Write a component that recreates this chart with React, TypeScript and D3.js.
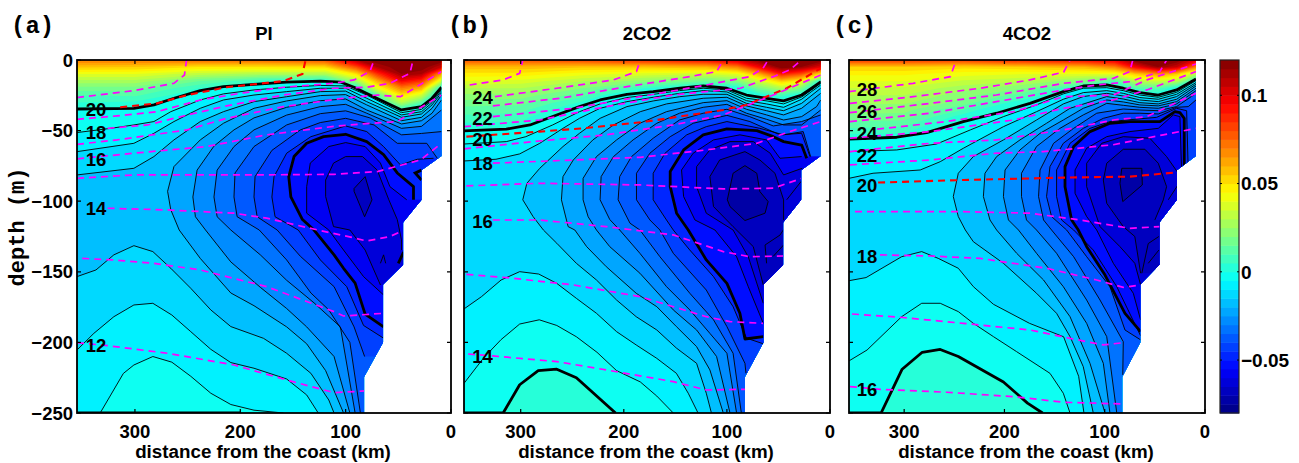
import React from "react";
import * as d3 from "d3";

type P = [number, number];
type Contour = { level: number; upper: P[]; lower?: P[] };
type Iso = { t: number; pts: P[] };

// x = distance from coast (km), second value = depth below surface (m)
const xTickValues = [300, 200, 100, 0];
const yTickValues = [0, 50, 100, 150, 200, 250];
const barTicks = [0.1, 0.05, 0, -0.05];
const barTickLabels = ["0.1", "0.05", "0", "\u22120.05"];
const topography: P[] = [[9, 0], [9, 68], [28, 78], [28, 99], [45.5, 115], [45.5, 145], [64.5, 159], [64.5, 200], [82.5, 224.5], [82.5, 250], [355, 250], [355, 0]];

const surfaceKm = [355, 300, 240, 180, 120, 90, 70, 47, 28, 9];
const surfaceDepth = [0, 5, 10, 15, 20, 25, 30, 35, 40, 50, 60];
const surfaceA = [
  .072, .072, .075, .075, .08, .11, .12, .12, .12, .12,
  .056, .055, .05, .05, .052, .08, .11, .12, .12, .105,
  .04, .04, .032, .028, .028, .05, .085, .115, .11, .065,
  .028, .028, .015, .005, 0, .025, .06, .095, .085, .035,
  .018, .018, .005, -.01, -.01, 0, .04, .07, .06, 0,
  .01, .011, 0, -.01, -.01, -.01, .012, .05, .035, -.01,
  .005, .004, -.01, -.01, -.01, -.01, 0, .03, .012, -.01,
  0, 0, -.01, -.01, -.01, -.01, -.01, .005, 0, -.01,
  -.01, -.01, -.01, -.01, -.01, -.01, -.01, -.01, -.01, -.01,
  -.01, -.01, -.01, -.01, -.01, -.01, -.01, -.01, -.01, -.01,
  -.01, -.01, -.01, -.01, -.01, -.01, -.01, -.01, -.01, -.01,
];
const surfaceB = [
  .08, .08, .082, .088, .095, .105, .118, .12, .12, .12,
  .058, .058, .056, .056, .06, .07, .095, .12, .115, .1,
  .048, .048, .042, .038, .035, .04, .06, .09, .08, .05,
  .04, .038, .03, .022, .015, .02, .035, .055, .045, 0,
  .03, .03, .02, .005, -.005, 0, .018, .03, .02, -.01,
  .024, .023, .012, -.01, -.01, -.005, 0, .008, 0, -.01,
  .018, .017, .004, -.01, -.01, -.01, -.005, -.005, -.01, -.01,
  .013, .012, -.002, -.01, -.01, -.01, -.01, -.01, -.01, -.01,
  .009, .008, -.01, -.01, -.01, -.01, -.01, -.01, -.01, -.01,
  0, 0, -.01, -.01, -.01, -.01, -.01, -.01, -.01, -.01,
  -.01, -.01, -.01, -.01, -.01, -.01, -.01, -.01, -.01, -.01,
];
const surfaceC = [
  .085, .085, .085, .09, .095, .1, .12, .12, .12, .1,
  .055, .055, .052, .055, .06, .07, .095, .115, .105, .07,
  .046, .046, .042, .04, .04, .04, .055, .065, .055, .03,
  .04, .04, .034, .03, .02, .01, .03, .035, .03, 0,
  .035, .034, .027, .02, 0, 0, .01, .012, 0, -.01,
  .03, .03, .022, .012, -.01, -.01, -.005, 0, -.01, -.01,
  .026, .026, .018, 0, -.01, -.01, -.01, -.01, -.01, -.01,
  .022, .022, .01, -.01, -.01, -.01, -.01, -.01, -.01, -.01,
  .019, .018, .002, -.01, -.01, -.01, -.01, -.01, -.01, -.01,
  .008, .007, -.01, -.01, -.01, -.01, -.01, -.01, -.01, -.01,
  -.004, -.004, -.01, -.01, -.01, -.01, -.01, -.01, -.01, -.01,
];

const contoursA: Contour[] = [
  { level: 0, upper: [[355, 34.7], [301, 34.2], [282, 31.8], [263, 27.1], [238, 21.7], [216, 18.9], [187, 17.2], [156, 15.6], [124, 14.9], [105, 15.6], [92, 19.3], [74, 25.9], [47, 35.4], [28, 33], [18, 27.1], [9, 19.3]], lower: [[355, 250], [200, 250]] },
  { level: -0.005, upper: [[355, 51.4], [323, 48.4], [301, 46], [282, 43.6], [266, 36.6], [238, 28.3], [216, 24], [187, 21.2], [156, 19.3], [124, 18], [100, 18.4], [80, 24.8], [47, 37.3], [28, 35], [18, 28.8], [9, 20.7]], lower: [[355, 250], [333, 250], [311, 222], [301, 216], [283, 210], [265, 214], [247, 224], [228, 236], [209, 244], [187, 248], [159, 250]] },
  { level: -0.01, upper: [[355, 64.9], [301, 59], [282, 51.9], [263, 43.6], [238, 34.2], [216, 28.3], [187, 24.8], [156, 22.4], [124, 20], [100, 20], [80, 27.1], [47, 38.9], [28, 36.6], [18, 30.2], [9, 21.7]], lower: [[355, 205.4], [339, 193.6], [320, 181.8], [301, 173.5], [283, 172.3], [265, 180.6], [247, 192.4], [228, 204.9], [209, 214.3], [187, 218.3], [156, 225.9], [137, 237.2], [126, 250]] },
  { level: -0.015, upper: [[355, 81.4], [301, 76.7], [282, 68.4], [263, 56.6], [238, 43.6], [216, 36.6], [187, 29.5], [156, 26], [124, 22.4], [100, 22], [80, 29.5], [47, 40.6], [28, 38.2], [18, 31.8], [9, 23.1]], lower: [[355, 153.4], [337, 148.7], [320, 138], [301, 131.5], [283, 135.7], [266, 147.5], [247, 161.7], [228, 177], [209, 188.8], [178, 197.1], [156, 207.7], [133, 221.9], [116, 240.8], [111, 250]] },
  { level: -0.02, upper: [[102, 250], [119, 220], [137, 201], [156, 189], [187, 174], [209, 165], [238, 140.5], [258, 120.4], [266, 106], [269, 93], [263, 75.5], [238, 56.6], [216, 44.8], [187, 34.2], [156, 29], [124, 25.2], [100, 24.5], [80, 31.8], [47, 43], [28, 40.6], [18, 34.2], [9, 24.8]] },
  { level: -0.025, upper: [[96, 250], [111, 210], [137, 189], [156, 176], [181, 161], [209, 143], [233, 120.4], [242.6, 111], [245, 97], [241, 78], [225, 61], [206, 49.5], [187, 41], [156, 33.5], [124, 28.8], [100, 27.6], [80, 35.4], [47, 45.3], [28, 43], [18, 37.7], [9, 28.3]] },
  { level: -0.03, upper: [[91, 250], [105, 189], [130, 172], [156, 156], [181, 138], [209, 120.4], [222, 111], [225, 97], [222, 78], [206, 61.3], [187, 49.5], [156, 39], [124, 33], [100, 31.4], [80, 37.7], [47, 48.4], [28, 47], [9, 35.4]] },
  { level: -0.035, upper: [[86, 250], [96, 200], [116, 177], [133, 165], [156, 141.6], [182, 120.4], [203, 111], [206, 97], [205, 80], [187, 61.3], [156, 46], [124, 38], [100, 36], [77, 41], [47, 53], [28, 52], [9, 50.7]] },
  { level: -0.04, upper: [[82, 210], [92, 189], [111, 160.5], [143, 139], [165, 120.4], [184, 111], [187, 97], [186, 82.6], [170, 64], [143, 49.5], [124, 44.3], [100, 41.3], [73, 46], [51, 59], [23, 59], [13, 69.6]] },
  { level: -0.045, upper: [[64, 197], [83, 188], [99, 160.5], [124, 141.6], [145, 120.4], [167, 111], [170, 97], [168, 82.6], [156, 66], [133, 54.3], [100, 46.7], [80, 50.7], [64, 61.3], [48, 74.3], [32, 70.3], [16.6, 69.6]] },
  { level: -0.05, upper: [[64, 189], [81.5, 180], [91, 158], [102, 147.5], [111, 138], [130, 120.4], [141, 113], [152, 97], [154, 82.6], [149, 68.4], [137, 59], [121, 54.3], [100, 52.6], [80, 57.8], [64, 67], [51, 80], [35.6, 89.7], [35.6, 99]] },
  { level: -0.055, upper: [[64, 166.4], [83, 153.4], [102, 134.6], [116, 120.4], [137, 108.5], [137, 89.7], [133.6, 73], [116, 61.3], [100, 58.5], [81.5, 61.3], [67, 73], [58, 89.7], [42, 99]] },
  { level: -0.06, upper: [[67, 159.3], [81.5, 134.6], [96, 120.4], [111.5, 118], [119, 96.7], [119, 85], [111.5, 73], [100, 68.4], [84, 68.4], [70, 78], [59, 99], [51, 113], [47, 127.4], [47, 134.6]] },
  { level: -0.065, upper: [[92, 91], [81.5, 82.6], [75, 99], [82, 111], [92, 93], [92, 91]] },
];
const fragmentsA: { thick: boolean; pts: P[] }[] = [
  { thick: true, pts: [[28, 78], [34, 80], [28, 85]] },
  { thick: true, pts: [[50, 144], [45, 136]] },
  { thick: false, pts: [[67, 144], [64, 138], [62, 144]] },
];
const isoA: Iso[] = [
  { t: 21, pts: [[355, 26.6], [301, 21.7], [263, 16.5], [253, 10.6], [251, 0]] },
  { t: 20, pts: [[314, 33.5], [279, 30.7], [250, 24.8], [213, 19.3], [159, 14.9], [141, 9.9], [138, 0]] },
  { t: 19, pts: [[355, 42], [317, 39.6], [279, 36.6], [238, 28.3], [200, 23.6], [159, 19.3], [111, 16.5], [92, 14.1], [77, 8.2], [73, 0]] },
  { t: 18, pts: [[326, 48.4], [288, 46], [250.5, 39], [213, 32.5], [159, 24.8], [111, 20], [80, 19.3], [58, 16.5], [39, 9.4], [36, 0]] },
  { t: 17, pts: [[355, 59.7], [317, 56.6], [250.5, 49.5], [213, 41.3], [159, 33], [102, 27.1], [70, 24.8], [48, 26], [9, 8.2]] },
  { t: 16, pts: [[355, 70], [301, 66], [232, 61.3], [175, 53], [111, 47], [80, 45], [51, 43.6], [9, 24.8]] },
  { t: 15, pts: [[355, 83.8], [301, 81.4], [190, 81.4], [111, 81], [70, 79], [29, 70.8], [9, 59]] },
  { t: 14, pts: [[326, 105], [269, 106.2], [206, 108.5], [175, 112], [127, 120.3], [92, 126], [80, 128.2], [58, 125], [46, 121]] },
  { t: 13, pts: [[350, 140.5], [320, 141.6], [282, 144], [238, 148.7], [175, 160.5], [137, 171], [111, 178.2], [102, 181.3], [64, 179.4]] },
  { t: 12, pts: [[355, 200.2], [326, 202.3], [269, 207.7], [206, 216], [156, 226.6], [111, 235.6], [82, 234.4]] },
];
const labelsA: [string, number][] = [["20", 35], ["18", 51], ["16", 70], ["14", 105], ["12", 202]];

const contoursB: Contour[] = [
  { level: 0, upper: [[355, 50.2], [314, 49], [291, 46], [269, 40], [243, 33], [223, 28.3], [197, 24.3], [171.5, 22.4], [145.6, 20], [123, 18.4], [100, 20], [81, 24.8], [61.5, 27.1], [45, 29], [27.5, 24.8], [17.8, 20], [8.7, 15.3]], lower: [[355, 250], [317, 250], [301, 230], [283, 220], [265, 219], [246, 225], [208, 250]] },
  { level: -0.005, upper: [[355, 59.5], [314, 57.8], [295, 54.3], [269, 46], [243, 36.6], [223, 31.1], [197, 26.6], [171, 24.3], [146, 21.7], [123, 20], [100, 21.2], [81, 27.1], [61, 29], [45, 31.1], [27, 26], [18, 21.2], [9, 16.5]], lower: [[355, 229], [336, 211], [319, 198], [301, 187], [282, 184], [265, 188], [246, 196], [226, 207], [207, 220], [184, 228], [168, 238], [152, 250]] },
  { level: -0.01, upper: [[355, 71.5], [324, 70.3], [301, 66.5], [281.5, 59], [259, 48.4], [243, 41.3], [223, 34.2], [197, 29.5], [171.5, 26.4], [146, 23.6], [123, 21.7], [100, 22.6], [81, 28.8], [61.5, 31.1], [45, 33.5], [27.5, 27.8], [18, 22.4], [9, 17.7]], lower: [[355, 176.3], [338, 167.6], [319, 155.8], [301, 149.9], [282.5, 151.6], [265, 158.2], [246, 168.8], [226.5, 179.4], [207, 192.4], [188, 201.8], [168, 211.3], [149, 221.9], [137.5, 236], [128, 250]] },
  { level: -0.015, upper: [[115, 250], [120, 236], [129.4, 214.8], [149, 204], [168, 191.2], [188, 181.8], [207, 170], [226.5, 155.8], [246, 144], [265, 129.8], [278, 120.4], [288, 110.9], [298, 99], [294, 87.3], [281.5, 76.7], [259, 61.3], [243, 51.9], [223, 41.3], [197, 33], [171.5, 29], [146, 26], [123, 24.3], [100, 24.3], [81, 30.7], [61.5, 33.5], [45, 35.9], [27.5, 30.7], [9, 20]] },
  { level: -0.02, upper: [[103.5, 250], [116.5, 219.5], [129.4, 203], [149, 188.8], [168, 174.7], [188, 165.2], [217, 146.4], [236, 132.2], [247.5, 120.4], [254, 118], [260.5, 99], [259, 82.6], [249, 70.8], [230, 56.6], [210, 46], [184, 36.6], [158.6, 31.1], [123, 27.1], [100, 26.4], [81, 32.5], [61.5, 35.9], [45, 38.9], [27.5, 34.2], [9, 23.6]] },
  { level: -0.025, upper: [[97, 250], [110, 210], [129.4, 191.2], [152, 177], [184.4, 151], [213.6, 132.2], [226.5, 120.4], [234.6, 111], [239.5, 99], [239.5, 83.8], [226.5, 68.4], [207, 56.6], [184.4, 44.8], [158.6, 36.6], [123, 30.2], [100, 28.8], [81, 34.9], [61.5, 38.9], [45, 42.5], [27.5, 40.1], [13, 33], [9, 28.3]] },
  { level: -0.03, upper: [[90.6, 250], [100, 207.7], [116.5, 193.6], [136, 177], [158.6, 160.5], [184.4, 136.9], [204, 120.4], [213.6, 113], [223, 99], [222, 82.6], [210, 68.4], [191, 56.6], [168, 44.8], [146, 37.7], [123, 33.5], [100, 31.4], [81, 37.7], [61.5, 42], [45, 46], [27.5, 46], [9, 35.4]] },
  { level: -0.035, upper: [[86, 250], [94, 207.7], [113, 184], [136, 165.2], [165, 139.3], [184.4, 120.4], [194, 115.6], [205.5, 99], [204, 82.6], [192.5, 68.4], [171.5, 55.4], [146, 42.5], [123, 37.7], [100, 34.9], [78, 40.1], [55, 46.7], [27.5, 43.6], [9, 38.9]] },
  { level: -0.04, upper: [[81.5, 221.9], [82.5, 214.8], [100, 188.8], [120, 162.9], [152, 136.9], [165, 120.4], [174.7, 113.3], [187.7, 99], [187.7, 80.2], [174.7, 66], [155, 54.3], [132.7, 44.8], [100, 39.2], [77.7, 43.6], [48.5, 53], [27.5, 51.9], [19.4, 68.4]] },
  { level: -0.045, upper: [[64.7, 201], [81, 197], [94, 174.7], [113, 153.4], [136, 134.6], [152, 120.4], [158.6, 113.3], [171.5, 99], [171.5, 80.2], [160, 66], [139, 53], [120, 47.2], [100, 43.6], [68, 48.4], [45, 53], [26, 50.7], [18.8, 68.4]] },
  { level: -0.05, upper: [[64.7, 195.9], [82.5, 197.6], [87.4, 179.4], [100, 158.2], [120, 141.6], [137.5, 120.4], [148.8, 108.5], [155, 89.7], [155, 79], [142, 63.7], [123, 53], [100, 48.8], [71, 50], [55, 54.3], [45, 57.8], [27.5, 60.2], [22.6, 69.6]] },
  { level: -0.055, upper: [[64.7, 186.5], [79.3, 160.5], [90.6, 139.3], [111.6, 120.4], [131, 113.3], [142, 96.7], [144, 77.9], [132.7, 66], [113, 56.6], [87.4, 53], [61.5, 56.6], [48.5, 69.6], [27.5, 68.4]] },
  { level: -0.06, upper: [[64.7, 172.3], [79.3, 139.3], [94, 120.4], [120, 108.5], [129.4, 89.7], [129.4, 75.5], [116.5, 63.7], [97, 57.8], [74.4, 57.8], [58, 66], [45, 81.4], [27, 76.7]] },
  { level: -0.065, upper: [[64.7, 159.3], [74.4, 132.2], [94, 118], [113, 103.8], [116.5, 82.6], [107, 70.8], [82.5, 64.9], [68, 70.8], [53.4, 80.2], [45, 99], [45, 113.3]] },
  { level: -0.07, upper: [[99.6, 99], [94, 80.2], [82.5, 74.8], [71, 80.2], [68, 93.2], [60, 100.3], [63, 108.5], [82.5, 113.7], [97, 103.8], [99.6, 99]] },
];
const fragmentsB: { thick: boolean; pts: P[] }[] = [
  { thick: false, pts: [[42, 99], [28, 86]] },
  { thick: false, pts: [[61.5, 144], [63, 131], [48.5, 124], [45, 120]] },
  { thick: false, pts: [[55, 139], [45, 131]] },
];
const isoB: Iso[] = [
  { t: 25, pts: [[349.5, 17.7], [317, 14.1], [301, 9.4], [298, 0]] },
  { t: 24, pts: [[325, 26], [265, 20], [210, 14.1], [187.7, 8.2], [184, 0]] },
  { t: 23, pts: [[327, 32.5], [262, 27.1], [197, 18.9], [136, 11.8], [110, 8.2], [103.5, 0]] },
  { t: 22, pts: [[327, 40.1], [249, 34.2], [184, 26], [120, 17.7], [78, 11.8], [65, 5.9], [60, 0]] },
  { t: 21, pts: [[355, 47.2], [281.5, 42.5], [217, 33], [152, 24.8], [87, 20], [55, 11.8], [39, 7], [31, 2], [27.5, 0]] },
  { t: 20, pts: [[352.7, 54.3], [281.5, 50.7], [239.5, 48.4], [178, 43.6], [103.5, 35.4], [81, 31.8], [42, 20], [9, 5.9]] },
  { t: 19, pts: [[355, 63], [288, 57.8], [217, 53], [152, 46], [103.5, 38.9], [55, 24.8], [9, 10.6]] },
  { t: 18, pts: [[327, 73.1], [249, 70.8], [184, 68.9], [120, 63.7], [71, 59], [39, 50.7], [9, 43.6]] },
  { t: 17, pts: [[352.7, 89.2], [281.5, 87.3], [184, 88.5], [103.5, 91.3], [55, 90.8], [27.5, 83.8]] },
  { t: 16, pts: [[327, 113.3], [281.5, 113.3], [217, 118], [152, 123.9], [103.5, 135.7], [77.7, 139.3], [45, 138.8]] },
  { t: 15, pts: [[352.7, 151.8], [314, 154.1], [249, 159.3], [184, 167.6], [120, 181.8], [97, 185.3], [65, 186.5]] },
  { t: 14, pts: [[351, 208.2], [327, 209.6], [265, 213.6], [217, 219.5], [152, 227.8], [120, 233.7], [82.5, 233.2]] },
];
const labelsB: [string, number][] = [["24", 26.5], ["22", 41.5], ["20", 56.5], ["18", 73], ["16", 114], ["14", 210]];

const contoursC: Contour[] = [
  { level: 0, upper: [[355, 56.1], [307.4, 54.7], [277.5, 51.4], [241, 43.6], [207.7, 37.7], [174.5, 30.7], [141.3, 22.4], [121.4, 18.4], [98, 17.7], [81.5, 20], [64.8, 23.1], [46.6, 24.8], [28.3, 21.2], [9, 13.4]], lower: [[355, 250], [323, 250], [302, 219], [282, 207], [264, 205], [246, 210], [201, 228], [177, 243], [162, 250]] },
  { level: -0.005, upper: [[355, 64.9], [307.4, 63.7], [267.6, 59.5], [234, 49.5], [201, 40.1], [168, 31.8], [141.3, 24], [121.4, 20], [98, 19.6], [81.5, 21.7], [65, 24.8], [46.6, 26.4], [28.3, 22.9], [9, 14.6]], lower: [[355, 213.1], [337, 205.4], [302.5, 181.8], [282.5, 172.3], [264, 172.3], [246, 178.2], [231, 186.5], [211, 195.9], [188, 206.5], [154.6, 221.9], [141.3, 236], [134.6, 250]] },
  { level: -0.01, upper: [[355, 83.8], [331, 80.2], [284, 77.9], [264, 72], [241, 62.5], [201, 47.2], [168, 36.6], [141.3, 27.8], [121.4, 23.1], [98, 21.7], [81.5, 23.6], [65, 26.6], [46.6, 27.8], [28.3, 24.3], [9, 16]], lower: [[355, 156.3], [338, 154.1], [302.5, 139.3], [282.5, 135.7], [266, 140.5], [246, 147.5], [231, 160.5], [211, 173], [175, 186.5], [141, 196], [126, 224], [120.7, 250]] },
  { level: -0.015, upper: [[111.4, 250], [121.4, 217.2], [134.6, 195.9], [148, 179.4], [168, 165.2], [201, 144], [231, 128.7], [239, 120.4], [246, 110.9], [251, 96.7], [246, 80.2], [231, 68.4], [201, 56.6], [168, 42.5], [141.3, 31.1], [121.4, 25.9], [98, 23.6], [81.5, 25.5], [65, 28.3], [46.6, 29.5], [28.3, 25.9], [9, 17.2]] },
  { level: -0.02, upper: [[99.7, 250], [114.7, 214.8], [134.6, 181.8], [161, 155.8], [187.8, 136.9], [207.8, 120.4], [214.4, 113.3], [221, 96.7], [219.4, 80.2], [207.8, 68.4], [184.5, 56.6], [158, 44.8], [134.6, 34.2], [98, 25.9], [81.5, 27.6], [65, 30.2], [46.6, 31.1], [28.3, 27.8], [9, 18.4]] },
  { level: -0.025, upper: [[94.8, 250], [101.4, 214.8], [118, 186.5], [141.3, 160.5], [168, 136.9], [186, 120.4], [196, 113.3], [201, 96.7], [199.4, 77.9], [184.5, 63.7], [164.5, 51.9], [141.3, 42.5], [121.4, 34.2], [98, 28.3], [81.5, 29.7], [65, 31.8], [46.6, 32.5], [28.3, 29.5], [9, 20]] },
  { level: -0.03, upper: [[88, 250], [98, 195.9], [118, 170], [148, 136.9], [168, 120.4], [178, 113.3], [183, 96.7], [183, 80.2], [168, 61.3], [144.6, 48.4], [121.4, 38.9], [98, 30.7], [81.5, 32.1], [65, 33.5], [46.6, 34.2], [28.3, 31.1], [9, 21.7]] },
  { level: -0.035, upper: [[82, 223], [81.5, 199.5], [104.7, 170], [131, 139.3], [153, 120.4], [161, 113.3], [166, 96.7], [164.5, 77.9], [151, 59], [131, 48.4], [108, 37.7], [81.5, 34.7], [65, 35.4], [46.6, 35.9], [28.3, 33], [9, 23.6]] },
  { level: -0.04, upper: [[64, 198.3], [79.8, 191.2], [94.8, 160.5], [118, 139.3], [138, 120.4], [153, 110.9], [158, 96.7], [154.6, 75.5], [141.3, 59], [121.4, 48.4], [101.4, 41.3], [81.5, 37.7], [65, 37.7], [46.6, 38.2], [28.3, 33.5], [16.7, 33], [9, 28.3]] },
  { level: -0.045, upper: [[64.2, 195.4], [88, 160.5], [111.4, 134.6], [131, 120.4], [143, 113.3], [148, 96.7], [148, 77.9], [134.6, 59], [114.7, 48.4], [94.8, 43.6], [48.2, 40.6], [28.3, 34.2], [18.3, 35.9], [16.7, 79]] },
  { level: -0.05, upper: [[64.2, 192.4], [79.8, 179.4], [99.7, 152.3], [118, 132.2], [126.3, 120.4], [133, 113.3], [139.6, 89.7], [139.6, 75.5], [131, 61.3], [114.7, 50.7], [94.8, 44.8], [74.8, 43.6], [45, 43.6], [30, 36.6], [25, 37.3], [20.7, 41.3], [20.7, 79]] },
  { level: -0.055, upper: [[64.2, 184.1], [71.5, 165.2], [91.4, 144], [108, 120.4], [118, 110.9], [129.6, 94.4], [129.6, 77.9], [118, 62.5], [98, 54.3], [74.8, 50.7], [46.6, 48.4], [31.6, 38.9], [25, 40.1], [23.3, 79]] },
  { level: -0.06, upper: [[64.2, 159.3], [70, 144], [84.8, 132.2], [104.7, 118], [118, 89.7], [118, 73.1], [103, 59], [81.5, 54.3], [55, 55.4], [38.3, 68.4], [26.6, 80.2]] },
  { level: -0.065, upper: [[64.2, 151], [70, 125], [81.5, 118], [98, 101.5], [101.4, 85], [98, 73.1], [81.5, 63.2], [60, 63.2], [46.6, 73.1], [38.3, 89.7], [41.6, 99.1], [50, 113.3]] },
  { level: -0.07, upper: [[84.8, 87.3], [83, 76.7], [63, 76.7], [62.5, 88.5], [82, 100.3], [84.8, 87.3]] },
];
const fragmentsC: { thick: boolean; pts: P[] }[] = [
  { thick: false, pts: [[36.6, 99], [27, 88.5]] },
  { thick: false, pts: [[63, 151], [56.6, 130], [46, 125]] },
  { thick: false, pts: [[56.6, 144], [46, 134.6]] },
];
const isoC: Iso[] = [
  { t: 28, pts: [[355, 22.4], [291, 16.5], [254, 11.8], [248, 0]] },
  { t: 27, pts: [[354, 30.7], [291, 26], [224, 20], [174.5, 14.1], [141, 8.6], [134.6, 0]] },
  { t: 26, pts: [[354, 37.3], [274, 30.7], [208, 24.8], [141, 16.5], [91.4, 13], [75, 8.2], [72, 0]] },
  { t: 25, pts: [[354, 43.6], [274, 37.7], [208, 29.5], [141, 21.2], [108, 17.7], [75, 15.3], [45, 8.2], [38.3, 0]] },
  { t: 24, pts: [[327, 49], [258, 43.6], [191, 36.6], [141, 26], [91.4, 24.8], [58, 14.1], [9, 2.8]] },
  { t: 23, pts: [[354, 55.4], [274, 50.7], [191, 42.5], [141, 34.2], [91.4, 28.3], [58, 21.2], [9, 8.2]] },
  { t: 22, pts: [[354, 64.9], [274, 59], [208, 56.6], [141, 49.5], [91.4, 42.5], [58, 40.1], [9, 23.6]] },
  { t: 21, pts: [[354, 74.3], [274, 70.8], [208, 66], [161, 64.9], [91.4, 60], [41.6, 53], [9, 48.4]] },
  { t: 20, pts: [[326, 86.8], [241, 85], [141, 83.3], [75, 82.6], [26.6, 79.5]] },
  { t: 19, pts: [[349, 107.4], [241, 107.4], [174.5, 108.5], [124.7, 113.3], [75, 119.2], [45, 118]] },
  { t: 18, pts: [[324, 138], [274, 138.8], [224, 140.5], [158, 147.5], [108, 155.8], [81.5, 161], [63, 159.3]] },
  { t: 17, pts: [[352, 179.9], [304, 182.2], [241, 186.5], [174.5, 191.2], [134.6, 197.1], [101.4, 201.8], [81.5, 200.2]] },
  { t: 16, pts: [[354, 231.3], [324, 233.2], [258, 235.3], [191, 238.4], [141, 242.4], [82, 243.6]] },
];
const labelsC: [string, number][] = [["28", 21], ["26", 36.5], ["24", 52], ["22", 67.5], ["20", 89], ["18", 139], ["16", 233]];

const panels = [
  { id: "a", tag: "(a)", tagX: 11, title: "PI", left: 77, right: 451, surface: surfaceA, contours: contoursA, fragments: fragmentsA, iso: isoA, labels: labelsA, labelX: 337 },
  { id: "b", tag: "(b)", tagX: 448, title: "2CO2", left: 464, right: 830, surface: surfaceB, contours: contoursB, fragments: fragmentsB, iso: isoB, labels: labelsB, labelX: 337 },
  { id: "c", tag: "(c)", tagX: 833, title: "4CO2", left: 849, right: 1205, surface: surfaceC, contours: contoursC, fragments: fragmentsC, iso: isoC, labels: labelsC, labelX: 337 },
];

const jet = (t: number) => {
  const f = (v: number) => Math.round(255 * Math.max(0, Math.min(1, 1.5 - Math.abs(4 * t - v))));
  return `rgb(${f(3)},${f(2)},${f(1)})`;
};
const cMin = -0.08, cMax = 0.12, step = 0.005;
const bandColor = (lower: number) => jet((lower + step / 2 - cMin) / (cMax - cMin));
const TOP = 60, BOTTOM = 413;
const y = d3.scaleLinear().domain([0, 250]).range([TOP, BOTTOM]);
const thresholds = d3.range(0, 24).map((i) => i * step + step);
const fontSans = "'Liberation Sans', Arial, sans-serif";
const fontMono = "'Liberation Mono', monospace";

function Panel({ p }: { p: (typeof panels)[number] }) {
  const x = d3.scaleLinear().domain([355, 0]).range([p.left, p.right]);
  const line = d3.line<P>().x((d) => x(d[0])).y((d) => y(d[1]));
  const toKm = d3.scaleLinear().domain(surfaceKm.map((_, i) => i)).range(surfaceKm).clamp(true);
  const toDepth = d3.scaleLinear().domain(surfaceDepth.map((_, i) => i)).range(surfaceDepth).clamp(true);
  const bands = d3.contours().size([surfaceKm.length, surfaceDepth.length]).thresholds(thresholds)(p.surface);
  const bandPath = (g: any) =>
    g.coordinates
      .map((poly: number[][][]) =>
        poly.map((ring) => "M" + ring.map(([cx, cy]) => `${x(toKm(cx - 0.5)).toFixed(1)},${y(toDepth(cy - 0.5)).toFixed(1)}`).join("L") + "Z").join("")
      )
      .join("");
  const polygon = (c: Contour): P[] => {
    const u = c.upper;
    const last = u[u.length - 1];
    if (c.lower) return [...u, [0, last[1]], [0, 255], [c.lower[c.lower.length - 1][0], 255], ...[...c.lower].reverse()];
    return [...u, [0, last[1]], [0, u[0][1]]];
  };
  return (
    <g>
      <clipPath id={"ocean-" + p.id}>
        <path d={line(topography) + "Z"} />
      </clipPath>
      <g clipPath={`url(#ocean-${p.id})`}>
        <rect x={p.left} y={TOP} width={p.right - p.left} height={BOTTOM - TOP} fill={bandColor(0)} />
        {bands.map((g, i) => (
          <path key={i} d={bandPath(g)} fill={bandColor(g.value)} fillRule="evenodd" />
        ))}
        {p.contours.map((c, i) => (
          <path key={i} d={line(polygon(c)) + "Z"} fill={bandColor(c.level - step)} />
        ))}
        {p.contours.map((c, i) => {
          const thick = c.level === 0 || c.level === -0.05;
          const w = thick ? 2.8 : 0.9;
          return (
            <g key={i} fill="none" stroke="#000" strokeWidth={w} strokeLinejoin="round">
              <path d={line(c.upper)!} />
              {c.lower && <path d={line(c.lower)!} />}
            </g>
          );
        })}
        {p.fragments.map((f, i) => (
          <path key={i} d={line(f.pts)!} fill="none" stroke="#000" strokeWidth={f.thick ? 2.8 : 0.9} />
        ))}
        {p.iso.map((l) => (
          <path key={l.t} d={line(l.pts)!} fill="none" stroke={l.t === 20 ? "#ff0000" : "#ff00ff"} strokeWidth={l.t === 20 ? 2.1 : 1.7} strokeDasharray="7 5" />
        ))}
      </g>
      {p.labels.map(([s, d]) => (
        <text key={s} x={x(p.labelX)} y={y(d)} dy="0.36em" textAnchor="middle" fontFamily={fontSans} fontWeight="bold" fontSize={18.5}>{s}</text>
      ))}
      <rect x={p.left} y={TOP} width={p.right - p.left} height={BOTTOM - TOP} fill="none" stroke="#000" strokeWidth={1.8} />
      {xTickValues.map((v) => (
        <g key={v}>
          <path d={`M${x(v)},${TOP}v4M${x(v)},${BOTTOM}v-4`} stroke="#000" strokeWidth={1.2} />
          <text x={x(v)} y={438} textAnchor="middle" fontFamily={fontSans} fontWeight="bold" fontSize={18.5}>{v}</text>
        </g>
      ))}
      {yTickValues.map((v) => (
        <path key={v} d={`M${p.left},${y(v)}h4M${p.right},${y(v)}h-4`} stroke="#000" strokeWidth={1.2} />
      ))}
      <text x={(p.left + p.right) / 2} y={40} textAnchor="middle" fontFamily={fontSans} fontWeight="bold" fontSize={18.5}>{p.title}</text>
      <text x={(p.left + p.right) / 2 - 1} y={458} textAnchor="middle" fontFamily={fontSans} fontWeight="bold" fontSize={18.8}>distance from the coast (km)</text>
      <text x={p.tagX} y={33} fontFamily={fontMono} fontWeight="bold" fontSize={24}>{p.tag}</text>
    </g>
  );
}

export default function App() {
  const barY = d3.scaleLinear().domain([cMin, cMax]).range([BOTTOM, TOP]);
  const barBands = d3.range(0, 40).map((i) => cMin + i * step);
  return (
    <svg width={1299} height={463} viewBox="0 0 1299 463" style={{ position: "absolute", left: 0, top: 0, background: "#fff" }}>
      {panels.map((p) => (
        <Panel key={p.id} p={p} />
      ))}
      {yTickValues.map((v) => (
        <text key={v} x={73} y={y(v)} dy="0.36em" textAnchor="end" fontFamily={fontSans} fontWeight="bold" fontSize={18.5}>
          {v === 0 ? "0" : "\u2212" + v}
        </text>
      ))}
      <text transform="translate(24,227) rotate(-90)" textAnchor="middle" fontFamily={fontMono} fontWeight="bold" fontSize={22}>depth (m)</text>
      {barBands.map((b, i) => (
        <rect key={i} x={1220} width={19} y={barY(b + step)} height={barY(b) - barY(b + step) + 0.5} fill={bandColor(b)} />
      ))}
      <rect x={1220} y={TOP} width={19} height={BOTTOM - TOP} fill="none" stroke="#222" strokeWidth={1.2} />
      {barTicks.map((v, i) => (
        <g key={v}>
          <path d={`M1220,${barY(v)}h2M1239,${barY(v)}h-2`} stroke="#000" strokeWidth={1} />
          <text x={1241} y={barY(v)} dy="0.36em" fontFamily={fontSans} fontWeight="bold" fontSize={19}>{barTickLabels[i]}</text>
        </g>
      ))}
    </svg>
  );
}
